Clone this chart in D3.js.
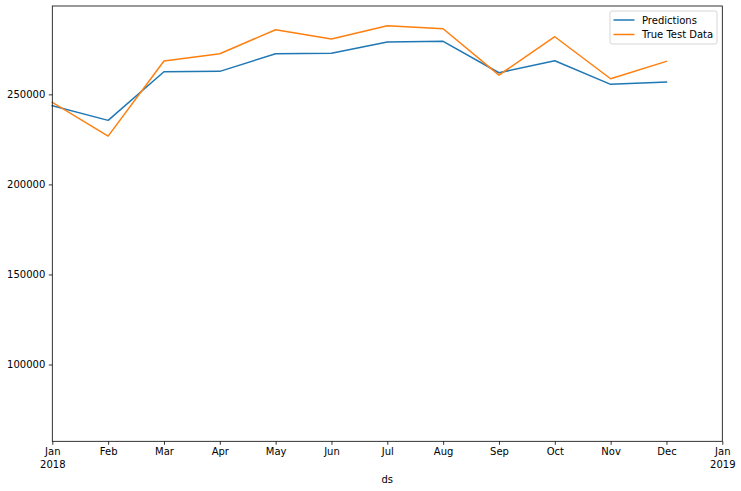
<!DOCTYPE html>
<html><head><meta charset="utf-8">
<script src="https://cdn.jsdelivr.net/npm/d3@7"></script>
<style>body{margin:0;background:#fff}text{font-family:"DejaVu Sans",sans-serif}</style>
</head><body><svg id="c" width="741" height="491"></svg>
<script>
const months = ["Jan","Feb","Mar","Apr","May","Jun","Jul","Aug","Sep","Oct","Nov","Dec","Jan"];
const yearLabels = {0:"2018", 12:"2019"};
const predictions = [243670,235560,262560,262780,272560,272780,279060,279450,262000,268670,255560,256830];
const trueTest   = [245560,226830,268500,272560,285890,280720,288110,286450,260720,282000,258670,268330];
const yTicks = [100000,150000,200000,250000];
const seriesNames = ["Predictions","True Test Data"];
const colors = ["#1f77b4","#ff7f0e"];

const L=52.3,R=722.3,T=6,B=441.3;
const svg=d3.select("#c");
const x=d3.scaleLinear().domain([0,12]).range([L,R]);
const y=d3.scaleLinear().domain([57370,299060]).range([B,T]);

const ya=svg.append("g").attr("transform",`translate(${L},0)`).call(d3.axisLeft(y).tickValues(yTicks).tickFormat(d3.format("d")).tickSize(3.5).tickPadding(3.5));
const xa=svg.append("g").attr("transform",`translate(0,${B})`).call(d3.axisBottom(x).tickValues(d3.range(13)).tickFormat(i=>months[i]).tickSize(3.5).tickPadding(3.5));
[ya,xa].forEach(g=>{g.select(".domain").remove();g.selectAll("text").attr("font-size",10).attr("fill","#000");g.selectAll("line").attr("stroke","#000").attr("stroke-width",0.8);});
xa.selectAll(".tick").filter(d=>yearLabels[d]).append("text").attr("y",19.5).attr("dy","0.71em").attr("text-anchor","middle").attr("font-size",10).attr("fill","#000").text(d=>yearLabels[d]);

const line=d3.line().x((d,i)=>x(i)).y(d=>y(d));
[predictions,trueTest].forEach((s,k)=>{
  svg.append("path").datum(s).attr("d",line).attr("fill","none").attr("stroke",colors[k]).attr("stroke-width",1.5).attr("stroke-linejoin","round").attr("stroke-linecap","square");
});
svg.append("rect").attr("x",L).attr("y",T).attr("width",R-L).attr("height",B-T).attr("fill","none").attr("stroke","#000").attr("stroke-width",0.8);
svg.append("text").attr("x",(L+R)/2).attr("y",483).attr("text-anchor","middle").attr("font-size",10).text("ds");

const lg=svg.append("g").attr("transform","translate(610,11)");
lg.append("rect").attr("width",107).attr("height",33).attr("rx",2).attr("fill","#fff").attr("fill-opacity",0.8).attr("stroke","#ccc").attr("stroke-width",0.8);
seriesNames.forEach((n,k)=>{
  const yy=9+k*14.5;
  lg.append("line").attr("x1",3.5).attr("x2",24.5).attr("y1",yy).attr("y2",yy).attr("stroke",colors[k]).attr("stroke-width",1.5);
  lg.append("text").attr("x",32).attr("y",yy).attr("dy","0.35em").attr("font-size",10).text(n);
});
</script></body></html>
